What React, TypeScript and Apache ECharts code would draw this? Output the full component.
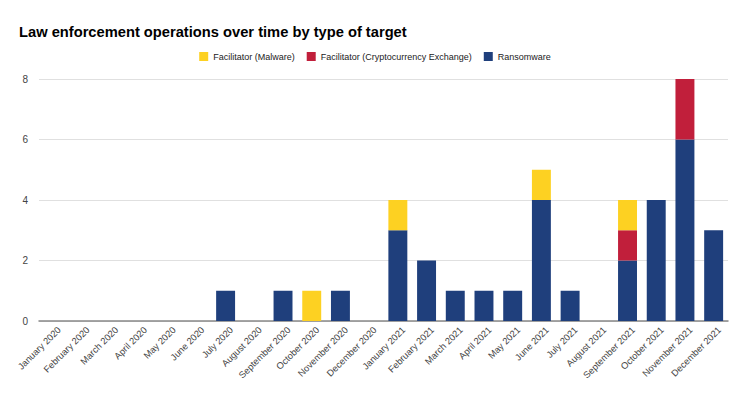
import React, { useEffect, useRef } from "react";
import * as echarts from "echarts";

const categories = [
  "January 2020", "February 2020", "March 2020", "April 2020", "May 2020", "June 2020",
  "July 2020", "August 2020", "September 2020", "October 2020", "November 2020", "December 2020",
  "January 2021", "February 2021", "March 2021", "April 2021", "May 2021", "June 2021",
  "July 2021", "August 2021", "September 2021", "October 2021", "November 2021", "December 2021",
];
const ransomware = [0, 0, 0, 0, 0, 0, 1, 0, 1, 0, 1, 0, 3, 2, 1, 1, 1, 4, 1, 0, 2, 4, 6, 3];
const cryptoExchange = [0, 0, 0, 0, 0, 0, 0, 0, 0, 0, 0, 0, 0, 0, 0, 0, 0, 0, 0, 0, 1, 0, 2, 0];
const malware = [0, 0, 0, 0, 0, 0, 0, 0, 0, 1, 0, 0, 1, 0, 0, 0, 0, 1, 0, 0, 1, 0, 0, 0];
const yTicks = [0, 2, 4, 6, 8];

const FONT = "Liberation Sans, Arial, sans-serif";

export default function App() {
  const ref = useRef<HTMLDivElement>(null);
  useEffect(() => {
    const chart = echarts.init(ref.current!, null, { renderer: "svg" });
    const toNull = (a: number[]) => a.map((v) => (v === 0 ? null : v));
    chart.setOption({
      animation: false,
      backgroundColor: "#ffffff",
      title: {
        text: "Law enforcement operations over time by type of target",
        left: 14,
        top: 19,
        textStyle: { fontFamily: FONT, fontSize: 14.7, fontWeight: "bold", color: "#000000" },
      },
      legend: {
        top: 47,
        left: "center",
        itemWidth: 9,
        itemHeight: 9,
        itemGap: 12,
        icon: "rect",
        textStyle: { fontFamily: FONT, fontSize: 9, color: "#222222" },
        data: ["Facilitator (Malware)", "Facilitator (Cryptocurrency Exchange)", "Ransomware"],
      },
      grid: { left: 39, right: 22, top: 79, bottom: 75, containLabel: false },
      xAxis: {
        type: "category",
        data: categories,
        axisLine: { lineStyle: { color: "#888888", width: 1.5 } },
        axisTick: { show: false },
        axisLabel: {
          rotate: 45,
          interval: 0,
          fontFamily: FONT,
          fontSize: 9.3,
          color: "#444444",
          margin: 7,
          verticalAlign: "top",
          padding: [0, -4, 0, 0],
        },
      },
      yAxis: {
        type: "value",
        min: yTicks[0],
        max: yTicks[yTicks.length - 1],
        interval: 2,
        axisLine: { show: false },
        axisTick: { show: false },
        splitLine: { lineStyle: { color: "#e0e0e0", width: 1 } },
        axisLabel: { fontFamily: FONT, fontSize: 10, color: "#444444", margin: 11 },
      },
      series: [
        {
          name: "Ransomware",
          type: "bar",
          stack: "t",
          data: toNull(ransomware),
          barWidth: "66%",
          itemStyle: { color: "#1f3f7c" },
        },
        {
          name: "Facilitator (Cryptocurrency Exchange)",
          type: "bar",
          stack: "t",
          data: toNull(cryptoExchange),
          itemStyle: { color: "#c11f3b" },
        },
        {
          name: "Facilitator (Malware)",
          type: "bar",
          stack: "t",
          data: toNull(malware),
          itemStyle: { color: "#fdd122" },
        },
      ],
    });
    return () => chart.dispose();
  }, []);
  return (
    <div
      ref={ref}
      style={{ position: "absolute", left: 0, top: 0, width: 750, height: 396 }}
    />
  );
}
